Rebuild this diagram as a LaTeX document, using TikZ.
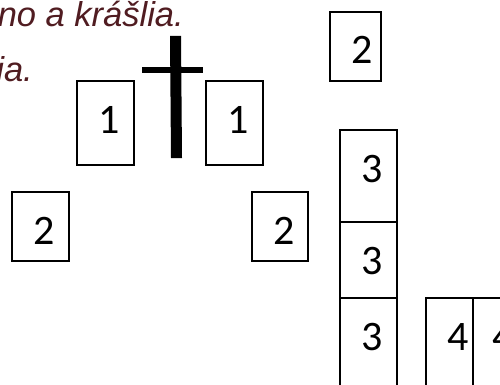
\documentclass[tikz,border=0pt]{standalone}
\usepackage{fontspec}
\setmainfont{Liberation Sans}
\newfontfamily\digitfont{Carlito}
\definecolor{txtred}{RGB}{80,28,33}
\usetikzlibrary{calc}
\tikzset{
  box/.style={draw=black, line width=1.3pt, anchor=north west, inner sep=0pt, outer sep=0pt},
  num/.style={anchor=base west, inner sep=0pt, font=\digitfont\fontsize{42}{50}\selectfont},
  captext/.style={anchor=base east, inner sep=0pt, text=txtred, font=\itshape\fontsize{34.5}{40}\selectfont},
  crossbar/.style={fill=black}
}
\begin{document}
\begin{tikzpicture}[x=1pt,y=-1pt]
\useasboundingbox (0,0) rectangle (500,385);
\clip (0,0) rectangle (500,385);
% text
\node[captext] (t1) at (184,27) {no a krášlia.};
\node[captext] (t2) at (33,82) {ia.};
% cross
\fill[crossbar] (170,36) -- (181,36) -- (182,158) -- (171,158) -- cycle;
\fill[crossbar] (142,67) rectangle (203,73);
% boxes
\node[box, minimum width=57pt, minimum height=84pt] (b1a) at (77,81) {};
\node[num] at ($(b1a.north west)+(21,52)$) {1};
\node[box, minimum width=57pt, minimum height=84pt] (b1b) at (206,81) {};
\node[num] at ($(b1b.north west)+(21,52)$) {1};
\node[box, minimum width=51pt, minimum height=69pt] (b2t) at (330,12) {};
\node[num] at ($(b2t.north west)+(21,52)$) {2};
\node[box, minimum width=57pt, minimum height=69pt] (b2l) at (12,192) {};
\node[num] at ($(b2l.north west)+(21,52)$) {2};
\node[box, minimum width=56pt, minimum height=69pt] (b2m) at (252,192) {};
\node[num] at ($(b2m.north west)+(21,52)$) {2};
\node[box, minimum width=57pt, minimum height=92pt] (b3a) at (340,130) {};
\node[num] at ($(b3a.north west)+(21,52)$) {3};
\node[box, minimum width=57pt, minimum height=76pt] (b3b) at (340,222) {};
\node[num] at ($(b3b.north west)+(21,52)$) {3};
\node[box, minimum width=57pt, minimum height=95pt] (b3c) at (340,298) {};
\node[num] at ($(b3c.north west)+(21,52)$) {3};
\node[box, minimum width=47pt, minimum height=95pt] (b4a) at (426,298) {};
\node[num] at ($(b4a.north west)+(21,52)$) {4};
\node[box, minimum width=47pt, minimum height=95pt] (b4b) at (473,298) {};
\node[num] at ($(b4b.north west)+(19,52)$) {4};
\end{tikzpicture}
\end{document}
